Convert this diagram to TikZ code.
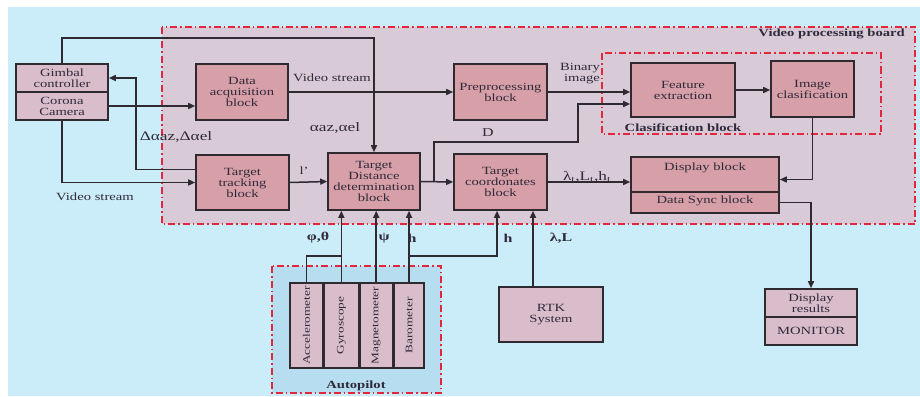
\documentclass[tikz,border=0pt]{standalone}
\usepackage{fontspec}
\setmainfont{Liberation Serif}[FakeStretch=1.33]
\usetikzlibrary{positioning,arrows.meta}
\definecolor{cielo}{HTML}{CBEDF9}
\definecolor{placa}{HTML}{D9CAD8}
\definecolor{rosa}{HTML}{D79FA8}
\definecolor{rosita}{HTML}{D9BDCB}
\definecolor{piloto}{HTML}{B7DDF0}
\definecolor{rojo}{HTML}{E2273D}
\definecolor{borde}{HTML}{2E2A30}
\definecolor{tinta}{HTML}{2F2A3A}

\begin{document}
\begin{tikzpicture}[x=1pt,y=-1pt,
      blk/.style={draw=borde,line width=1.6pt,fill=rosa,align=center,inner sep=1pt,
                  font=\fontsize{11}{11}\selectfont,text=tinta},
      lgt/.style={blk,fill=rosita},
      sens/.style={lgt,minimum width=32.5pt,minimum height=85pt,font=\fontsize{10}{10}\selectfont},
      grp/.style={draw=rojo,line width=1.5pt,dash pattern=on 7pt off 3pt on 1.5pt off 3pt},
      fl/.style={-{Triangle[length=7pt,width=6pt]},line width=1.5pt,borde},
      ln/.style={line width=1.5pt,borde},
      lbl/.style={font=\fontsize{11}{11}\selectfont,text=tinta,inner sep=1pt,align=center},
      grk/.style={lbl,font=\fontsize{13}{13}\selectfont},
      ttl/.style={lbl,font=\bfseries\fontsize{11}{11}\selectfont}]
    \useasboundingbox (0,0) rectangle (920,396);
    \fill[cielo] (8,7) rectangle (920,396);
    % group boxes
    \draw[grp,fill=placa] (162,27) rectangle (915,224);
    \draw[grp] (602,53) rectangle (881,134);
    \draw[grp,fill=piloto] (272,266) rectangle (441,393);
    \node[ttl,anchor=east] (vpbl) at (906,34) {Video processing board};
    \node[ttl] (clsl) at (683,128) {Clasification block};
    \node[ttl] (apl) at (356,386) {Autopilot};
    % blocks
    \node[lgt,minimum width=92pt,minimum height=28pt] (gimbal) at (62,78) {Gimbal\\controller};
    \node[lgt,minimum width=92pt,minimum height=28pt] (camera) at (62,106) {Corona\\Camera};
    \node[blk,minimum width=92pt,minimum height=56pt] (daq) at (242,92) {Data\\acquisition\\block};
    \node[blk,minimum width=93pt,minimum height=55pt] (track) at (242.5,182.5) {Target\\tracking\\block};
    \node[blk,minimum width=92pt,minimum height=57pt] (tdd) at (374,181.5) {Target\\Distance\\determination\\block};
    \node[blk,minimum width=93pt,minimum height=56pt] (pre) at (500.5,92) {Preprocessing\\block};
    \node[blk,minimum width=93pt,minimum height=56pt] (tcoord) at (500.5,182) {Target\\coordonates\\block};
    \node[blk,minimum width=104pt,minimum height=54pt] (feat) at (683,90) {Feature\\extraction};
    \node[blk,minimum width=83pt,minimum height=56pt] (imgc) at (812.5,89) {Image\\clasification};
    \node[blk,minimum width=148pt,minimum height=35pt,text height=8pt,text depth=17pt] (dispb) at (705,174.5) {Display block};
    \node[blk,minimum width=148pt,minimum height=21pt,text height=8pt,text depth=7pt] (sync) at (705,202.5) {Data Sync block};
    \node[lgt,minimum width=92pt,minimum height=28pt] (results) at (811,303) {Display\\results};
    \node[lgt,minimum width=92pt,minimum height=28pt] (monitor) at (811,331) {MONITOR};
    \node[lgt,minimum width=104pt,minimum height=55pt] (rtk) at (551,314.5) {RTK\\System};
    \node[sens] (accel) at (306.5,325.5) {\rotatebox{90}{Accelerometer}};
    \node[sens,right=0pt of accel,minimum width=34pt] (gyro) {\rotatebox{90}{Gyroscope}};
    \node[sens,right=0pt of gyro] (magn) {\rotatebox{90}{Magnetometer}};
    \node[sens,right=0pt of magn,minimum width=30pt] (baro) {\rotatebox{90}{Barometer}};
    % turning points
    \coordinate (toprow) at (0,38);
    \coordinate (sensrow) at (0,256);
    \coordinate (dturn) at (578,142);
    % connectors
    \draw[fl] (gimbal.north) |- (toprow -| tdd.north) -- (tdd.north);
    \draw[fl] ([yshift=13pt]track.west) -| ([xshift=27pt]gimbal.east) -- (gimbal.east);
    \draw[fl] (camera.east) -- (camera.east -| daq.west);
    \draw[fl] (camera.south) |- (track.west);
    \draw[fl] (daq.east) -- (pre.west);
    \draw[fl] (pre.east) -- (pre.east -| feat.west);
    \draw[fl] (track.east) -- (tdd.west);
    \draw[fl] (tdd.east) -- (tcoord.west);
    \draw[fl] ([xshift=13pt]tdd.east) |- (dturn) |- ([yshift=-14pt]feat.west);
    \draw[fl] (feat.east) -- (feat.east -| imgc.west);
    \draw[fl] (imgc.south) |- ([yshift=-5pt]dispb.east);
    \draw[fl] (tcoord.east) -- (tcoord.east -| dispb.west);
    \draw[fl] (sync.east) -| (results.north);
    \draw[ln] (accel.north) |- (gyro.north |- sensrow);
    \draw[fl] (gyro.north) -- (gyro.north |- tdd.south);
    \draw[fl] (magn.north) -- (magn.north |- tdd.south);
    \draw[fl] (baro.north) -- (baro.north |- tdd.south);
    \draw[fl] (baro.north |- sensrow) -| ([xshift=-3.5pt]tcoord.south);
    \draw[fl] ([xshift=-18pt]rtk.north) -- ([xshift=-18pt]rtk.north |- tcoord.south);
    % connector labels
    \node[grk] (dang) at (176,137) {Δαaz,Δαel};
    \node[lbl] (vid1) at (95,197) {Video stream};
    \node[lbl] (vid2) at (332,78) {Video stream};
    \node[lbl,align=right] (bin) at (580,74) {Binary\\image};
    \node[grk] (ang) at (335,128) {αaz,αel};
    \node[lbl] (lp) at (304,171) {l’};
    \node[lbl,font=\fontsize{12}{12}\selectfont] (dl) at (488,133) {D};
    \node[grk] (pos) at (587,177) {λ\textsubscript{t},L\textsubscript{t},h\textsubscript{t}};
    \node[grk,font=\bfseries\fontsize{12}{12}\selectfont] (pt) at (318,238) {φ,θ};
    \node[grk,font=\bfseries\fontsize{12}{12}\selectfont] (psi) at (384,238) {ψ};
    \node[grk,font=\bfseries\fontsize{12}{12}\selectfont] (h1) at (412,238) {h};
    \node[grk,font=\bfseries\fontsize{12}{12}\selectfont] (h2) at (508,238) {h};
    \node[grk,font=\bfseries\fontsize{12}{12}\selectfont] (ll) at (561,238) {λ,L};
  \end{tikzpicture}
\end{document}
